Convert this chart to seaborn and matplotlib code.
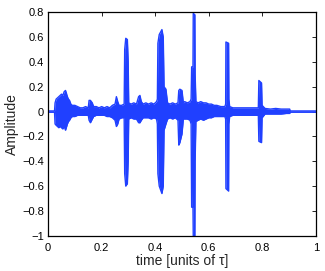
import numpy as np
import pandas as pd
import seaborn as sns
import matplotlib
matplotlib.use("Agg")
import matplotlib.pyplot as plt

t = [0.000, 0.024, 0.026, 0.030, 0.035, 0.040, 0.045, 0.050, 0.055, 0.060,
     0.065, 0.068, 0.072, 0.076, 0.080, 0.085, 0.090, 0.100, 0.110, 0.120,
     0.130, 0.140, 0.150, 0.153, 0.158, 0.165, 0.170, 0.180, 0.190, 0.200,
     0.210, 0.220, 0.230, 0.240, 0.250, 0.255, 0.260, 0.265, 0.275, 0.284,
     0.286, 0.290, 0.296, 0.299, 0.301, 0.310, 0.320, 0.330, 0.338, 0.343,
     0.348, 0.355, 0.365, 0.375, 0.385, 0.395, 0.405, 0.408, 0.410, 0.415,
     0.425, 0.430, 0.433, 0.440, 0.446, 0.455, 0.465, 0.475, 0.485, 0.488,
     0.492, 0.500, 0.505, 0.510, 0.520, 0.530, 0.534, 0.536, 0.541, 0.542,
     0.548, 0.549, 0.552, 0.560, 0.570, 0.580, 0.590, 0.600, 0.610, 0.620,
     0.630, 0.645, 0.660, 0.663, 0.664, 0.674, 0.675, 0.678, 0.690, 0.710,
     0.730, 0.750, 0.770, 0.785, 0.787, 0.797, 0.799, 0.810, 0.830, 0.850,
     0.870, 0.890, 0.902, 0.904, 1.000]
upper = [0.005, 0.005, 0.07, 0.10, 0.11, 0.12, 0.13, 0.14, 0.13, 0.16,
         0.17, 0.15, 0.12, 0.10, 0.09, 0.06, 0.05, 0.05, 0.04, 0.03,
         0.03, 0.04, 0.03, 0.09, 0.09, 0.07, 0.04, 0.04, 0.03, 0.04,
         0.03, 0.04, 0.03, 0.05, 0.06, 0.12, 0.08, 0.05, 0.05, 0.06,
         0.50, 0.59, 0.58, 0.40, 0.07, 0.06, 0.07, 0.06, 0.12, 0.13,
         0.08, 0.06, 0.07, 0.06, 0.07, 0.06, 0.08, 0.10, 0.55, 0.62,
         0.66, 0.60, 0.20, 0.18, 0.07, 0.06, 0.07, 0.06, 0.07, 0.17,
         0.18, 0.17, 0.07, 0.08, 0.07, 0.08, 0.10, 0.36, 0.36, 0.79,
         0.78, 0.30, 0.08, 0.07, 0.08, 0.07, 0.07, 0.06, 0.06, 0.05,
         0.05, 0.04, 0.04, 0.06, 0.56, 0.55, 0.10, 0.04, 0.03, 0.03,
         0.03, 0.03, 0.03, 0.03, 0.25, 0.23, 0.05, 0.025, 0.02, 0.025,
         0.02, 0.02, 0.02, 0.005, 0.005]
lower = [-0.005, -0.005, -0.10, -0.11, -0.12, -0.13, -0.12, -0.13, -0.14, -0.12,
         -0.15, -0.13, -0.10, -0.08, -0.07, -0.05, -0.04, -0.04, -0.03, -0.03,
         -0.03, -0.03, -0.03, -0.07, -0.09, -0.06, -0.04, -0.03, -0.03, -0.03,
         -0.03, -0.04, -0.04, -0.05, -0.07, -0.12, -0.10, -0.06, -0.05, -0.05,
         -0.50, -0.60, -0.58, -0.40, -0.06, -0.05, -0.06, -0.06, -0.09, -0.09,
         -0.07, -0.05, -0.05, -0.05, -0.06, -0.05, -0.06, -0.10, -0.50, -0.60,
         -0.66, -0.60, -0.15, -0.10, -0.06, -0.05, -0.06, -0.05, -0.07, -0.27,
         -0.25, -0.18, -0.06, -0.06, -0.06, -0.07, -0.10, -0.77, -0.77, -1.00,
         -1.00, -0.40, -0.08, -0.07, -0.06, -0.07, -0.06, -0.05, -0.05, -0.04,
         -0.04, -0.04, -0.04, -0.06, -0.62, -0.64, -0.10, -0.04, -0.03, -0.03,
         -0.03, -0.03, -0.03, -0.03, -0.24, -0.25, -0.05, -0.02, -0.02, -0.02,
         -0.02, -0.015, -0.015, -0.005, -0.005]

xticks = [0, 0.2, 0.4, 0.6, 0.8, 1]
xlabels = ["0", "0.2", "0.4", "0.6", "0.8", "1"]
yticks = [-1, -0.8, -0.6, -0.4, -0.2, 0, 0.2, 0.4, 0.6, 0.8]
ylabels = ["\u22121", "\u22120.8", "\u22120.6", "\u22120.4", "\u22120.2",
           "0", "0.2", "0.4", "0.6", "0.8"]

blue = "#2040ff"

sns.set_theme(style="white")
plt.rcParams['font.family'] = ['Liberation Sans', 'DejaVu Sans']

fig = plt.figure(figsize=(3.25, 2.71), dpi=100)
ax = fig.add_axes([0.148, 0.130, 0.824, 0.825])

df = pd.DataFrame({"t": t, "up": upper, "lo": lower})
ax.fill_between(df["t"], df["lo"], df["up"], color=blue, linewidth=0)
sns.lineplot(data=df, x="t", y="up", ax=ax, color=blue, linewidth=1)
sns.lineplot(data=df, x="t", y="lo", ax=ax, color=blue, linewidth=1)

ax.set_xlim(0, 1)
ax.set_ylim(-1, 0.8)
ax.set_xticks(xticks)
ax.set_xticklabels(xlabels)
ax.set_yticks(yticks)
ax.set_yticklabels(ylabels)
ax.tick_params(direction="in", top=True, right=True, length=3, width=0.6,
               labelsize=8, colors="black")
ax.tick_params(axis="x", pad=5)
ax.tick_params(axis="y", pad=3)
for s in ax.spines.values():
    s.set_color("black")
    s.set_linewidth(0.9)
ax.set_xlabel("time [units of \u03c4]", fontsize=10, labelpad=1,
              family=['Liberation Sans', 'DejaVu Serif'])
ax.set_ylabel("Amplitude", fontsize=10, labelpad=2)

fig.savefig("out.png", dpi=100)
